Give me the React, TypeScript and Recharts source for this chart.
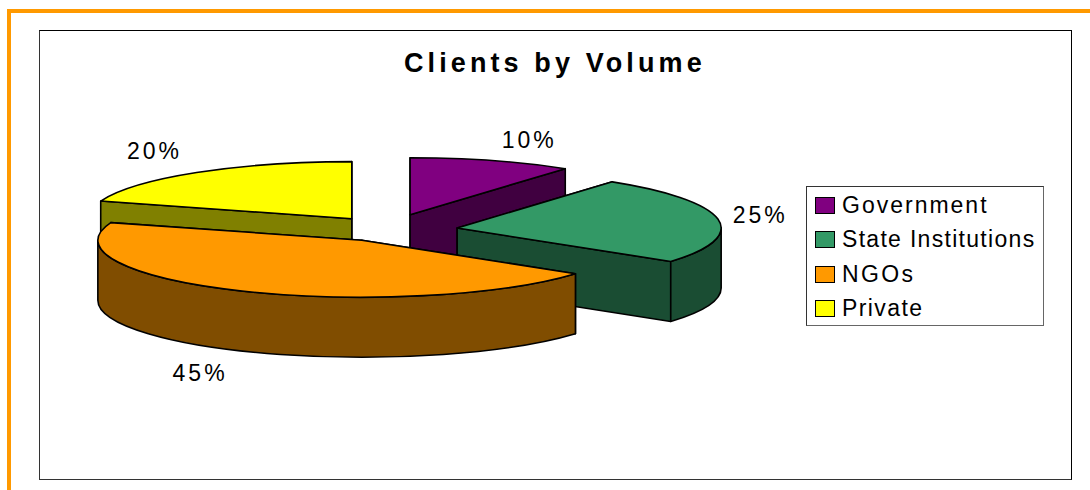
import { Legend, Pie, PieChart } from "recharts";

// drawn order differs from legend order so the slices overlap like the original
const drawOrder = ["Private", "Government", "State Institutions", "NGOs"];
const drawValues = [20, 10, 25, 45];
const drawColors = ["#FFFF00", "#800080", "#339966", "#FF9900"];
const sideColors = ["#808000", "#400040", "#1A4D33", "#804D00"];
const legendOrder = ["Government", "State Institutions", "NGOs", "Private"];

const CX = 390;
const CY = 230;
const RX = 264;
const RY = 57;
const DEPTH = 60;
const FONT = "'Liberation Sans', Arial, sans-serif";

// explosion of each slice from the centre, in px along x / y
const PULL: Record<string, [number, number]> = {
  Private: [65, 14],
  Government: [65, 16],
  "State Institutions": [68, 13],
  NGOs: [62, 11.5],
};

// small nudges for the percent labels
const LABEL_NUDGE: Record<string, [number, number]> = {
  Private: [20, -2],
  Government: [5, 2],
  "State Institutions": [-62, 0],
  NGOs: [6, 1],
};

// the original's legend text is unevenly tracked
const LEGEND_SPACING: Record<string, number> = {
  Government: 2,
  "State Institutions": 1.3,
  NGOs: 2.4,
  Private: 1.4,
};

const rad = (d: number) => (d * Math.PI) / 180;

function apexOf(name: string, midAngle: number) {
  const [ex, ey] = PULL[name];
  const t = rad(90 - midAngle);
  return { x: CX + ex * Math.sin(t), y: CY - ey * Math.cos(t) };
}

const data = drawOrder.map((name, i) => ({
  name,
  value: drawValues[i],
  fill: drawColors[i],
  side: sideColors[i],
}));

function Slice3D(props: any) {
  const { startAngle, endAngle, midAngle, name, fill } = props;
  const side = props.side ?? props.payload?.side;
  const mid = midAngle ?? (startAngle + endAngle) / 2;
  const apex = apexOf(name, mid);
  // clockwise degrees from 12 o'clock
  const a = 90 - startAngle;
  const b = 90 - endAngle;
  const rim = (t: number, dy = 0) => ({
    x: apex.x + RX * Math.sin(rad(t)),
    y: apex.y - RY * Math.cos(rad(t)) + dy,
  });
  const p = rim(a);
  const q = rim(b);
  const large = b - a > 180 ? 1 : 0;

  const quad = (r: { x: number; y: number }) =>
    `M${apex.x},${apex.y} L${r.x},${r.y} L${r.x},${r.y + DEPTH} L${apex.x},${apex.y + DEPTH} Z`;

  // outer wall only where the rim faces the viewer
  const w0 = Math.max(a, 90);
  const w1 = Math.min(b, 270);
  let wall = "";
  if (w1 > w0) {
    const s = rim(w0);
    const e = rim(w1);
    const s2 = rim(w0, DEPTH);
    const e2 = rim(w1, DEPTH);
    wall = `M${s.x},${s.y} A${RX},${RY} 0 0 1 ${e.x},${e.y} L${e2.x},${e2.y} A${RX},${RY} 0 0 0 ${s2.x},${s2.y} Z`;
  }

  const stroke = { stroke: "#000", strokeWidth: 1.6, strokeLinejoin: "round" as const };
  return (
    <g>
      <path d={quad(p)} fill={side} {...stroke} />
      <path d={quad(q)} fill={side} {...stroke} />
      {wall && <path d={wall} fill={side} {...stroke} />}
      <path
        d={`M${apex.x},${apex.y} L${p.x},${p.y} A${RX},${RY} 0 ${large} 1 ${q.x},${q.y} Z`}
        fill={fill}
        {...stroke}
      />
    </g>
  );
}

function renderLabel(props: any) {
  const { midAngle, name, value } = props;
  const apex = apexOf(name, midAngle);
  const t = rad(90 - midAngle);
  const front = Math.cos(t) < -0.5;
  const [nx, ny] = LABEL_NUDGE[name];
  const x = apex.x + 1.4 * RX * Math.sin(t) + nx;
  const y = apex.y - 1.42 * RY * Math.cos(t) + (front ? DEPTH : 0) + ny;
  return (
    <text
      key={name}
      x={x}
      y={y}
      textAnchor="middle"
      dominantBaseline="central"
      fontFamily={FONT}
      fontSize={23}
      letterSpacing={3}
      fill="#000"
    >
      {value}%
    </text>
  );
}

function LegendBox() {
  return (
    <div
      style={{
        boxSizing: "border-box",
        width: 238,
        height: 140,
        border: "1px solid #333",
        borderRightColor: "#666",
        borderBottomColor: "#666",
        background: "#fff",
        fontFamily: FONT,
        fontSize: 23,
        color: "#000",
        paddingTop: 1,
      }}
    >
      {legendOrder.map((name) => {
        const i = drawOrder.indexOf(name);
        return (
          <div key={name} style={{ display: "flex", alignItems: "center", height: 34.5, whiteSpace: "nowrap" }}>
            <div
              style={{
                boxSizing: "border-box",
                flexShrink: 0,
                width: 20,
                height: 17,
                marginLeft: 8,
                marginRight: 7,
                border: "1.5px solid #000",
                background: drawColors[i],
              }}
            />
            <span style={{ letterSpacing: LEGEND_SPACING[name] }}>{name}</span>
          </div>
        );
      })}
    </div>
  );
}

export default function App() {
  return (
    <div style={{ position: "absolute", left: 0, top: 0, width: 1090, height: 490, overflow: "hidden", background: "#fff" }}>
      {/* orange page rule */}
      <div style={{ position: "absolute", left: 7, top: 9, right: 0, height: 4, background: "#FF9900" }} />
      <div style={{ position: "absolute", left: 7, top: 9, bottom: 0, width: 4, background: "#FF9900" }} />
      {/* chart frame */}
      <div
        style={{
          position: "absolute",
          left: 39,
          top: 30,
          width: 1033,
          height: 450,
          boxSizing: "border-box",
          border: "1px solid #000",
          borderLeftColor: "#333",
          borderBottomColor: "#333",
        }}
      />
      <div
        style={{
          position: "absolute",
          left: 404,
          top: 48,
          fontFamily: FONT,
          fontWeight: "bold",
          fontSize: 27,
          letterSpacing: 4.1,
          whiteSpace: "nowrap",
          color: "#000",
        }}
      >
        Clients by Volume
      </div>
      <div style={{ position: "absolute", left: 0, top: 0 }}>
        <PieChart width={1090} height={490} margin={{ top: 0, right: 0, bottom: 0, left: 0 }}>
          <Pie
            data={data}
            dataKey="value"
            nameKey="name"
            cx={CX}
            cy={CY}
            outerRadius={RX}
            startAngle={162}
            endAngle={-198}
            stroke="none"
            label={renderLabel}
            labelLine={false}
            shape={Slice3D}
            isAnimationActive={false}
          />
          <Legend
            content={<LegendBox />}
            layout="vertical"
            wrapperStyle={{ position: "absolute", left: 806, top: 186, width: 238, height: 140, bottom: "auto", right: "auto" }}
          />
        </PieChart>
      </div>
    </div>
  );
}
